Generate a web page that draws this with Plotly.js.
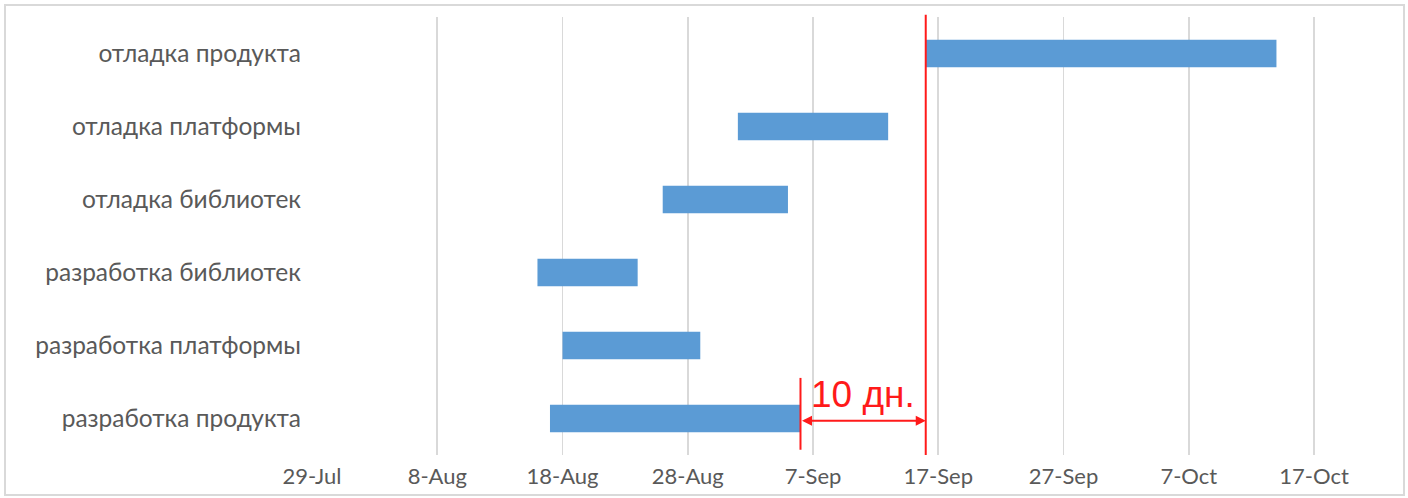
<!DOCTYPE html>
<html>
<head>
<meta charset="utf-8">
<script src="https://cdn.plot.ly/plotly-3.0.1.min.js"></script>
<style>
  html, body { margin: 0; padding: 0; background: #fff; }
  #wrap { position: relative; width: 1408px; height: 498px; }
  #chart { width: 1408px; height: 498px; }
  #frame { position: absolute; left: 4px; top: 4px; width: 1401px; height: 492px;
           border: 2px solid #d9d9d9; box-sizing: border-box; pointer-events: none; }
</style>
</head>
<body>
<div id="wrap">
  <div id="chart"></div>
  <div id="frame"></div>
</div>
<script>
// Tasks (bottom to top)
const tasks = [
  "разработка продукта",
  "разработка платформы",
  "разработка библиотек",
  "отладка библиотек",
  "отладка платформы",
  "отладка продукта"
];
const startDates = [
  "2017-08-17",
  "2017-08-18",
  "2017-08-16",
  "2017-08-26",
  "2017-09-01",
  "2017-09-16"
];
const endDates = [
  "2017-09-06",
  "2017-08-29",
  "2017-08-24",
  "2017-09-05",
  "2017-09-13",
  "2017-10-14"
];
const tickDates = ["2017-07-29","2017-08-08","2017-08-18","2017-08-28","2017-09-07",
                   "2017-09-17","2017-09-27","2017-10-07","2017-10-17"];
const tickLabels = ["29-Jul","8-Aug","18-Aug","28-Aug","7-Sep","17-Sep","27-Sep","7-Oct","17-Oct"];
const axisRange = ["2017-07-29", "2017-10-22 16:00"];
const deadlineDate = "2017-09-16";
const devEndDate = "2017-09-06";
const labelDate = "2017-09-11";
const gapLabel = "10 дн.";

const durations = startDates.map((s, i) => (new Date(endDates[i]) - new Date(s)));

const trace = {
  type: "bar",
  orientation: "h",
  y: tasks,
  base: startDates,
  x: durations,
  marker: { color: "#5b9bd5" },
  width: 0.38,
  hoverinfo: "skip"
};

const red = "#ff1a1a";

const layout = {
  width: 1408,
  height: 498,
  margin: { l: 312, r: 23, t: 17, b: 43 },
  paper_bgcolor: "#ffffff",
  plot_bgcolor: "#ffffff",
  showlegend: false,
  font: { family: "Lato, 'Open Sans', sans-serif", size: 18, color: "#595959" },
  xaxis: {
    type: "date",
    range: axisRange,
    tickmode: "array",
    tickvals: tickDates,
    ticktext: tickLabels,
    showgrid: true,
    gridcolor: "#d9d9d9",
    gridwidth: 1.6,
    zeroline: false,
    showline: false,
    ticks: "",
    ticklabelstandoff: 6,
    tickfont: { size: 22, color: "#595959" }
  },
  yaxis: {
    type: "category",
    categoryorder: "array",
    categoryarray: tasks,
    showgrid: false,
    zeroline: false,
    showline: false,
    ticks: "",
    ticklabelstandoff: 10,
    tickfont: { size: 24.5, color: "#595959" }
  },
  shapes: [
    { type: "line", xref: "x", yref: "paper", x0: deadlineDate, x1: deadlineDate, y0: 0, y1: 1.005,
      line: { color: red, width: 2 } },
    { type: "line", xref: "x", yref: "paper", x0: devEndDate, x1: devEndDate, y0: 0.012, y1: 0.176,
      line: { color: red, width: 2 } }
  ],
  annotations: [
    { xref: "x", yref: "paper", axref: "x", ayref: "paper",
      x: deadlineDate, y: 0.078, ax: devEndDate, ay: 0.078,
      text: "", showarrow: true, arrowhead: 2, arrowside: "end+start",
      arrowsize: 1, arrowwidth: 2, arrowcolor: red, standoff: 0, startstandoff: 0 },
    { xref: "x", yref: "paper", x: labelDate, y: 0.138, text: gapLabel, showarrow: false,
      xanchor: "center", yanchor: "middle",
      font: { family: "Arial, 'Liberation Sans', sans-serif", size: 37, color: red } }
  ]
};

Plotly.newPlot("chart", [trace], layout, { staticPlot: true, displayModeBar: false });
</script>
</body>
</html>
